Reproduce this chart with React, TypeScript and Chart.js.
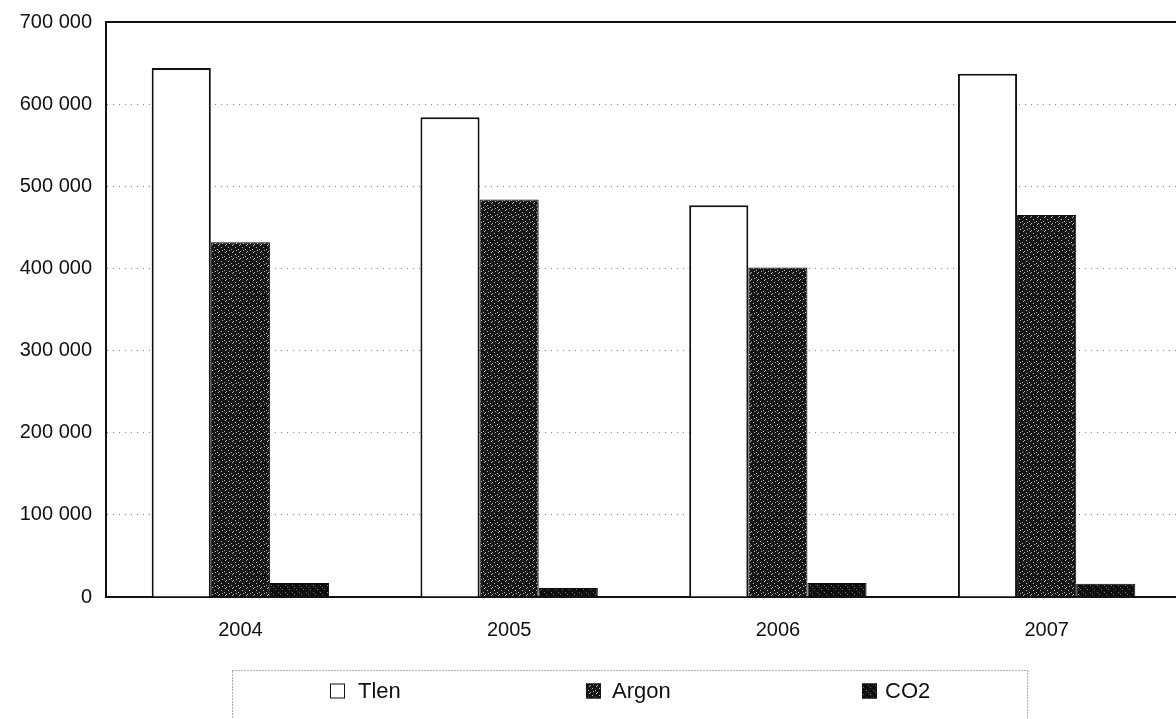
import React, { useEffect, useRef } from "react";
import { Chart, registerables } from "chart.js";

Chart.register(...registerables);

// Annual volumes per gas
const years = ["2004", "2005", "2006", "2007"];
const tlenValues = [644000, 584000, 477000, 637000];
const argonValues = [432000, 484000, 401000, 465000];
const co2Values = [17000, 11000, 17000, 16000];
const seriesNames = ["Tlen", "Argon", "CO2"];
const yMax = 700000;
const yStep = 100000;

const formatThousands = (v: number) =>
  String(v).replace(/\B(?=(\d{3})+(?!\d))/g, " ");

// Small speckled fill used for the dark bars
function makeSpeckle(base: string, dot: string, dots: number[][]) {
  const c = document.createElement("canvas");
  c.width = 7;
  c.height = 7;
  const g = c.getContext("2d")!;
  g.fillStyle = base;
  g.fillRect(0, 0, 7, 7);
  g.fillStyle = dot;
  dots.forEach(([x, y]) => g.fillRect(x, y, 1, 1));
  return g.createPattern(c, "repeat")!;
}

export default function App() {
  const canvasRef = useRef<HTMLCanvasElement | null>(null);

  useEffect(() => {
    const canvas = canvasRef.current;
    if (!canvas) return;

    const argonFill = makeSpeckle("#161616", "#b4b4b4", [
      [1, 0], [4, 2], [0, 4], [5, 5], [2, 6],
    ]);
    const co2Fill = makeSpeckle("#0e0e0e", "#6e6e6e", [
      [2, 1], [5, 4], [0, 6],
    ]);
    const fills = ["#ffffff", argonFill, co2Fill];

    const frameAndLegend = {
      id: "frameAndLegend",
      afterDraw(chart: any) {
        const { ctx, chartArea } = chart;
        ctx.save();
        // top edge of the plot frame
        ctx.strokeStyle = "#111";
        ctx.lineWidth = 2;
        ctx.beginPath();
        ctx.moveTo(chartArea.left, chartArea.top);
        ctx.lineTo(chartArea.right, chartArea.top);
        ctx.stroke();

        // legend frame (dotted)
        ctx.strokeStyle = "#555";
        ctx.lineWidth = 1;
        ctx.setLineDash([1, 2]);
        ctx.strokeRect(232.5, 670.5, 795, 70);
        ctx.setLineDash([]);

        const boxX = [330, 586, 862];
        const textX = [358, 612, 885];
        const cy = 691;
        const s = 15;
        ctx.font = "22px 'Liberation Sans', Arial, sans-serif";
        ctx.textBaseline = "middle";
        ctx.textAlign = "left";
        chart.data.datasets.forEach((ds: any, i: number) => {
          const x = boxX[i];
          ctx.fillStyle = fills[i];
          ctx.fillRect(x, cy - s / 2, s, s);
          ctx.strokeStyle = "#111";
          ctx.lineWidth = 1;
          ctx.strokeRect(x + 0.5, cy - s / 2 + 0.5, s - 1, s - 1);
          ctx.fillStyle = "#111";
          ctx.fillText(ds.label, textX[i], cy + 1);
        });
        ctx.restore();
      },
    };

    const chart = new Chart(canvas, {
      type: "bar",
      data: {
        labels: years,
        datasets: [
          {
            label: seriesNames[0],
            data: tlenValues,
            backgroundColor: fills[0],
            borderColor: "#111",
            borderWidth: 2,
          },
          {
            label: seriesNames[1],
            data: argonValues,
            backgroundColor: fills[1],
            borderColor: "#111",
            borderWidth: 1,
          },
          {
            label: seriesNames[2],
            data: co2Values,
            backgroundColor: fills[2],
            borderColor: "#0a0a0a",
            borderWidth: 1,
          },
        ],
      },
      options: {
        responsive: false,
        animation: false,
        layout: { padding: { top: 22, right: 9, bottom: 0, left: 0 } },
        plugins: {
          legend: { display: false },
          tooltip: { enabled: false },
        },
        datasets: {
          bar: { categoryPercentage: 0.66, barPercentage: 1.0 },
        },
        scales: {
          x: {
            grid: { display: false, drawTicks: false },
            border: { display: true, color: "#111", width: 2 },
            ticks: {
              padding: 21,
              color: "#111",
              font: { family: "'Liberation Sans', Arial, sans-serif", size: 20 },
            },
            afterFit: (scale: any) => {
              scale.height = 122;
              scale.paddingLeft = 0;
              scale.paddingRight = 0;
            },
          },
          y: {
            min: 0,
            max: yMax,
            grid: {
              color: "#808080",
              lineWidth: 1,
              drawTicks: false,
            },
            border: { display: true, color: "#111", width: 2, dash: [1, 5] },
            ticks: {
              stepSize: yStep,
              padding: 14,
              color: "#111",
              font: { family: "'Liberation Sans', Arial, sans-serif", size: 20 },
              callback: (v: any) => formatThousands(Number(v)),
            },
            afterFit: (scale: any) => {
              scale.width = 106;
              scale.paddingTop = 0;
              scale.paddingBottom = 0;
            },
          },
        },
      },
      plugins: [frameAndLegend],
    });

    return () => chart.destroy();
  }, []);

  return (
    <div
      style={{
        position: "fixed",
        left: 0,
        top: 0,
        width: 1176,
        height: 719,
        overflow: "hidden",
        background: "#fff",
      }}
    >
      <canvas
        ref={canvasRef}
        width={1190}
        height={719}
        style={{ width: 1190, height: 719, display: "block" }}
      />
    </div>
  );
}
